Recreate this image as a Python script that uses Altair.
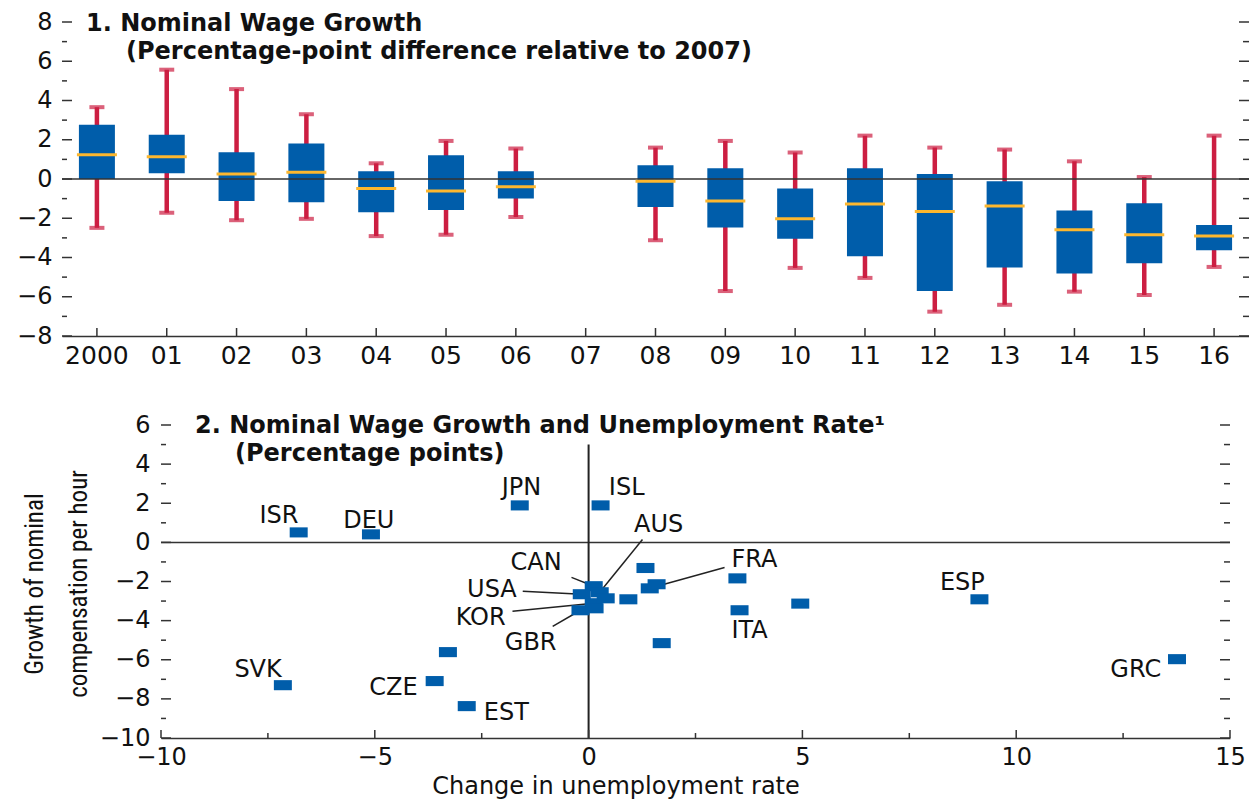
import altair as alt
import pandas as pd

# ---------------- Panel 1: nominal wage growth, pp difference vs 2007 ----------------
years = ["2000", "01", "02", "03", "04", "05", "06", "07", "08",
         "09", "10", "11", "12", "13", "14", "15", "16"]
box_years = ["2000", "01", "02", "03", "04", "05", "06", "08",
             "09", "10", "11", "12", "13", "14", "15", "16"]
whisker_low = [-2.49, -1.72, -2.10, -2.03, -2.91, -2.84, -1.94, -3.12,
               -5.71, -4.53, -5.04, -6.76, -6.41, -5.74, -5.91, -4.48]
quart_low = [0.00, 0.29, -1.12, -1.19, -1.70, -1.58, -0.99, -1.43,
             -2.47, -3.05, -3.94, -5.71, -4.51, -4.82, -4.29, -3.63]
median = [1.23, 1.14, 0.26, 0.34, -0.48, -0.61, -0.39, -0.12,
          -1.12, -2.03, -1.28, -1.65, -1.38, -2.59, -2.84, -2.90]
quart_high = [2.76, 2.25, 1.36, 1.81, 0.39, 1.21, 0.39, 0.70,
              0.55, -0.49, 0.55, 0.26, -0.12, -1.60, -1.23, -2.35]
whisker_high = [3.66, 5.57, 4.58, 3.30, 0.80, 1.94, 1.55, 1.60,
                1.94, 1.35, 2.21, 1.60, 1.50, 0.90, 0.10, 2.21]

top_major = [-8, -6, -4, -2, 0, 2, 4, 6, 8]
top_minor = [-7, -5, -3, -1, 1, 3, 5, 7]

# ---------------- Panel 2: wage growth vs change in unemployment ----------------
countries = ["ISR", "DEU", "JPN", "ISL", "SVK", "CZE", "", "EST",
             "CAN", "AUS", "USA", "KOR", "GBR", "", "", "", "",
             "FRA", "", "", "ITA", "", "", "ESP", "GRC"]
unemp_change = [-6.78, -5.09, -1.61, 0.28, -7.15, -3.60, -3.29, -2.85,
                0.12, 0.26, -0.16, 0.12, -0.19, 0.40, 0.14, 0.93, 1.33,
                1.43, 1.59, 3.48, 3.53, 4.95, 1.71, 9.14, 13.76]
wage_growth = [0.51, 0.41, 1.89, 1.89, -7.30, -7.09, -5.61, -8.37,
               -2.24, -2.55, -2.65, -3.11, -3.47, -2.86, -3.37, -2.91, -1.31,
               -2.35, -2.14, -1.84, -3.47, -3.13, -5.15, -2.91, -5.97]

label_codes = ["ISR", "DEU", "JPN", "ISL", "AUS", "CAN", "USA", "KOR",
               "GBR", "FRA", "ITA", "ESP", "GRC", "SVK", "CZE", "EST"]
label_x = [-7.24, -5.14, -1.57, 0.89, 1.64, -0.63, -1.68, -1.94,
           -0.75, 3.34, 3.34, 8.74, 13.39, -7.73, -4.00, -2.45]
label_y = [0.97, 0.71, 2.40, 2.40, 0.51, -1.43, -2.81, -4.23,
           -5.51, -1.28, -4.90, -2.45, -6.89, -6.89, -7.81, -9.08]
label_align = ["center", "center", "center", "center", "center", "right", "right", "right",
               "right", "left", "left", "center", "right", "center", "right", "left"]

leader_codes = ["CAN", "AUS", "USA", "KOR", "GBR", "FRA"]
leader_x = [-0.40, 1.26, -1.54, -1.78, -0.84, 3.18]
leader_y = [-1.79, 0.15, -2.50, -3.52, -4.29, -1.28]

bot_x_major = [-10, -5, 0, 5, 10, 15]
bot_x_minor = [-7.5, -2.5, 2.5, 7.5, 12.5]
bot_y_major = [-10, -8, -6, -4, -2, 0, 2, 4, 6]
bot_y_minor = [-9, -7, -5, -3, -1, 1, 3, 5]

# ---------------- styling ----------------
BLUE = "#005DAA"
RED = "#CC1E42"
GOLD = "#FDB72E"
INK = "#111111"
AXIS = "#333333"
FONT = "DejaVu Sans"
NARROW = "Liberation Sans Narrow, Roboto Condensed, Liberation Sans"
RECT = "M-1,-0.56L1,-0.56L1,0.56L-1,0.56Z"

one = pd.DataFrame({"k": [0]})

box_df = pd.DataFrame({"year": box_years, "lo": whisker_low, "q1": quart_low,
                       "med": median, "q3": quart_high, "hi": whisker_high})
year_df = pd.DataFrame({"year": years})

x_top_scale = alt.Scale(domain=years, range=[62, 1249], paddingInner=0, paddingOuter=0)
y_top_scale = alt.Scale(domain=[-8, 8], range=[336, 22], nice=False, zero=False)
x_top_axis = alt.Axis(orient="bottom", offset=-464, domain=True, domainColor=AXIS,
                      domainWidth=1.5, ticks=False, tickSize=0, labelPadding=7,
                      labelFont=FONT, labelFontSize=25, labelColor=INK, labelAngle=0,
                      grid=False)
y_top_axis = alt.Axis(orient="left", offset=-62, values=top_major, domain=False,
                      ticks=False, tickSize=0, labelPadding=10, labelFont=FONT,
                      labelFontSize=24, labelColor=INK, grid=False)


def xt():
    return alt.X("year:N", scale=x_top_scale, axis=x_top_axis, title=None)


def yt(field):
    return alt.Y(f"{field}:Q", scale=y_top_scale, axis=y_top_axis, title=None)


whiskers = alt.Chart(box_df).mark_rule(color=RED, strokeWidth=4.5).encode(
    x=xt(), y=yt("lo"), y2="hi")
cap_lo = alt.Chart(box_df).mark_tick(color=RED, size=15, thickness=4).encode(
    x=xt(), y=yt("lo"))
cap_hi = alt.Chart(box_df).mark_tick(color=RED, size=15, thickness=4).encode(
    x=xt(), y=yt("hi"))
boxes = alt.Chart(box_df).mark_bar(color=BLUE, size=36).encode(
    x=xt(), y=yt("q1"), y2="q3")
zero_top = alt.Chart(one).mark_rule(color=AXIS, strokeWidth=1.5).encode(
    y=alt.Y(datum=0, scale=y_top_scale, axis=y_top_axis, title=None),
    x=alt.value(62), x2=alt.value(1249))
medians = alt.Chart(box_df).mark_tick(color=GOLD, size=40, thickness=3, opacity=1).encode(
    x=xt(), y=yt("med"))
x_ticks_top = alt.Chart(year_df).mark_rule(color=AXIS, strokeWidth=1.5).encode(
    x=xt(), y=alt.value(328), y2=alt.value(336))

top_major_df = pd.DataFrame({"v": top_major})
top_minor_df = pd.DataFrame({"v": top_minor})


def side_ticks(df, yfn, x0, x1):
    return alt.Chart(df).mark_rule(color=AXIS, strokeWidth=1.5).encode(
        y=yfn("v"), x=alt.value(x0), x2=alt.value(x1))


top_titles = [
    alt.Chart(one).mark_text(text="1. Nominal Wage Growth", font=FONT, fontSize=24,
                             fontWeight="bold", color=INK, align="left",
                             baseline="alphabetic").encode(x=alt.value(86), y=alt.value(31)),
    alt.Chart(one).mark_text(text="(Percentage-point difference relative to 2007)", font=FONT,
                             fontSize=24, fontWeight="bold", color=INK, align="left",
                             baseline="alphabetic").encode(x=alt.value(126), y=alt.value(59)),
]

top = alt.layer(
    whiskers, cap_lo, cap_hi, boxes, zero_top, medians, x_ticks_top,
    side_ticks(top_major_df, yt, 62, 72), side_ticks(top_minor_df, yt, 62, 67),
    side_ticks(top_major_df, yt, 1239, 1249), side_ticks(top_minor_df, yt, 1243, 1249),
    *top_titles,
)

# ---------------- bottom panel ----------------
pts = pd.DataFrame({"code": countries, "du": unemp_change, "dw": wage_growth})
labels = pd.DataFrame({"code": label_codes, "lx": label_x, "ly": label_y, "al": label_align})
leaders = pd.DataFrame({"code": leader_codes, "sx": leader_x, "sy": leader_y}).merge(
    pts, on="code")

x_bot_scale = alt.Scale(domain=[-10, 15], range=[161, 1230], nice=False, zero=False)
y_bot_scale = alt.Scale(domain=[-10, 6], range=[738, 425], nice=False, zero=False)
x_bot_axis = alt.Axis(orient="bottom", offset=-62, values=bot_x_major, domain=True,
                      domainColor=AXIS, domainWidth=1.5, ticks=False, tickSize=0,
                      labelPadding=7, labelFlush=False, labelFont=FONT, labelFontSize=24,
                      labelColor=INK, grid=False)
y_bot_axis = alt.Axis(orient="left", offset=-161, values=bot_y_major, domain=False,
                      ticks=False, tickSize=0, labelPadding=11, labelFont=FONT,
                      labelFontSize=24, labelColor=INK, grid=False)


def xb(field):
    return alt.X(f"{field}:Q", scale=x_bot_scale, axis=x_bot_axis, title=None)


def yb(field):
    return alt.Y(f"{field}:Q", scale=y_bot_scale, axis=y_bot_axis, title=None)


zero_h = alt.Chart(one).mark_rule(color=AXIS, strokeWidth=1.5).encode(
    y=alt.Y(datum=0, scale=y_bot_scale, axis=y_bot_axis, title=None),
    x=alt.X(datum=-10, scale=x_bot_scale, axis=x_bot_axis, title=None),
    x2=alt.X2(datum=15))
zero_v = alt.Chart(one).mark_rule(color="#222222", strokeWidth=2).encode(
    x=alt.X(datum=0, scale=x_bot_scale, axis=x_bot_axis, title=None),
    y=alt.Y(datum=-10, scale=y_bot_scale, axis=y_bot_axis, title=None),
    y2=alt.Y2(datum=5))
leader_lines = alt.Chart(leaders).mark_rule(color="#222222", strokeWidth=1.5).encode(
    x=xb("sx"), y=yb("sy"), x2="du", y2="dw")
points = alt.Chart(pts).mark_point(shape=RECT, size=324, filled=True, opacity=1,
                                   color=BLUE, strokeWidth=0).encode(
    x=xb("du"), y=yb("dw"))


def label_layer(al):
    return alt.Chart(labels).transform_filter(alt.datum.al == al).mark_text(
        font=FONT, fontSize=24, color=INK, align=al, baseline="alphabetic").encode(
        x=xb("lx"), y=yb("ly"), text="code:N")


bx_major = pd.DataFrame({"v": bot_x_major})
bx_minor = pd.DataFrame({"v": bot_x_minor})
by_major = pd.DataFrame({"v": bot_y_major})
by_minor = pd.DataFrame({"v": bot_y_minor})


def x_ticks_bot(df, y0):
    return alt.Chart(df).mark_rule(color=AXIS, strokeWidth=1.5).encode(
        x=xb("v"), y=alt.value(y0), y2=alt.value(738))


bottom_texts = [
    alt.Chart(one).mark_text(text="2. Nominal Wage Growth and Unemployment Rate\u00b9",
                             font=FONT, fontSize=24, fontWeight="bold", color=INK,
                             align="left", baseline="alphabetic").encode(
        x=alt.value(195), y=alt.value(433)),
    alt.Chart(one).mark_text(text="(Percentage points)", font=FONT, fontSize=24,
                             fontWeight="bold", color=INK, align="left",
                             baseline="alphabetic").encode(
        x=alt.value(235), y=alt.value(461)),
    alt.Chart(one).mark_text(text="Change in unemployment rate", font=FONT, fontSize=24,
                             color=INK, align="center", baseline="alphabetic").encode(
        x=alt.value(616), y=alt.value(794)),
    alt.Chart(one).mark_text(text=["Growth of nominal", "compensation per hour"],
                             font=NARROW, fontSize=25, lineHeight=44, color=INK,
                             angle=270, align="center", baseline="alphabetic").encode(
        x=alt.value(43), y=alt.value(584)),
]

bottom = alt.layer(
    zero_h, zero_v, leader_lines, points,
    label_layer("left"), label_layer("center"), label_layer("right"),
    x_ticks_bot(bx_major, 730), x_ticks_bot(bx_minor, 733),
    side_ticks(by_major, yb, 161, 171), side_ticks(by_minor, yb, 161, 166),
    side_ticks(by_major, yb, 1220, 1230), side_ticks(by_minor, yb, 1224, 1230),
    *bottom_texts,
)

chart = alt.layer(top, bottom).resolve_scale(
    x="independent", y="independent"
).properties(
    width=1249, height=800, padding=0,
    autosize=alt.AutoSizeParams(type="none"),
    background="white",
).configure_view(strokeWidth=0)

chart.save("out.html", embed_options={"renderer": "svg", "actions": False})
